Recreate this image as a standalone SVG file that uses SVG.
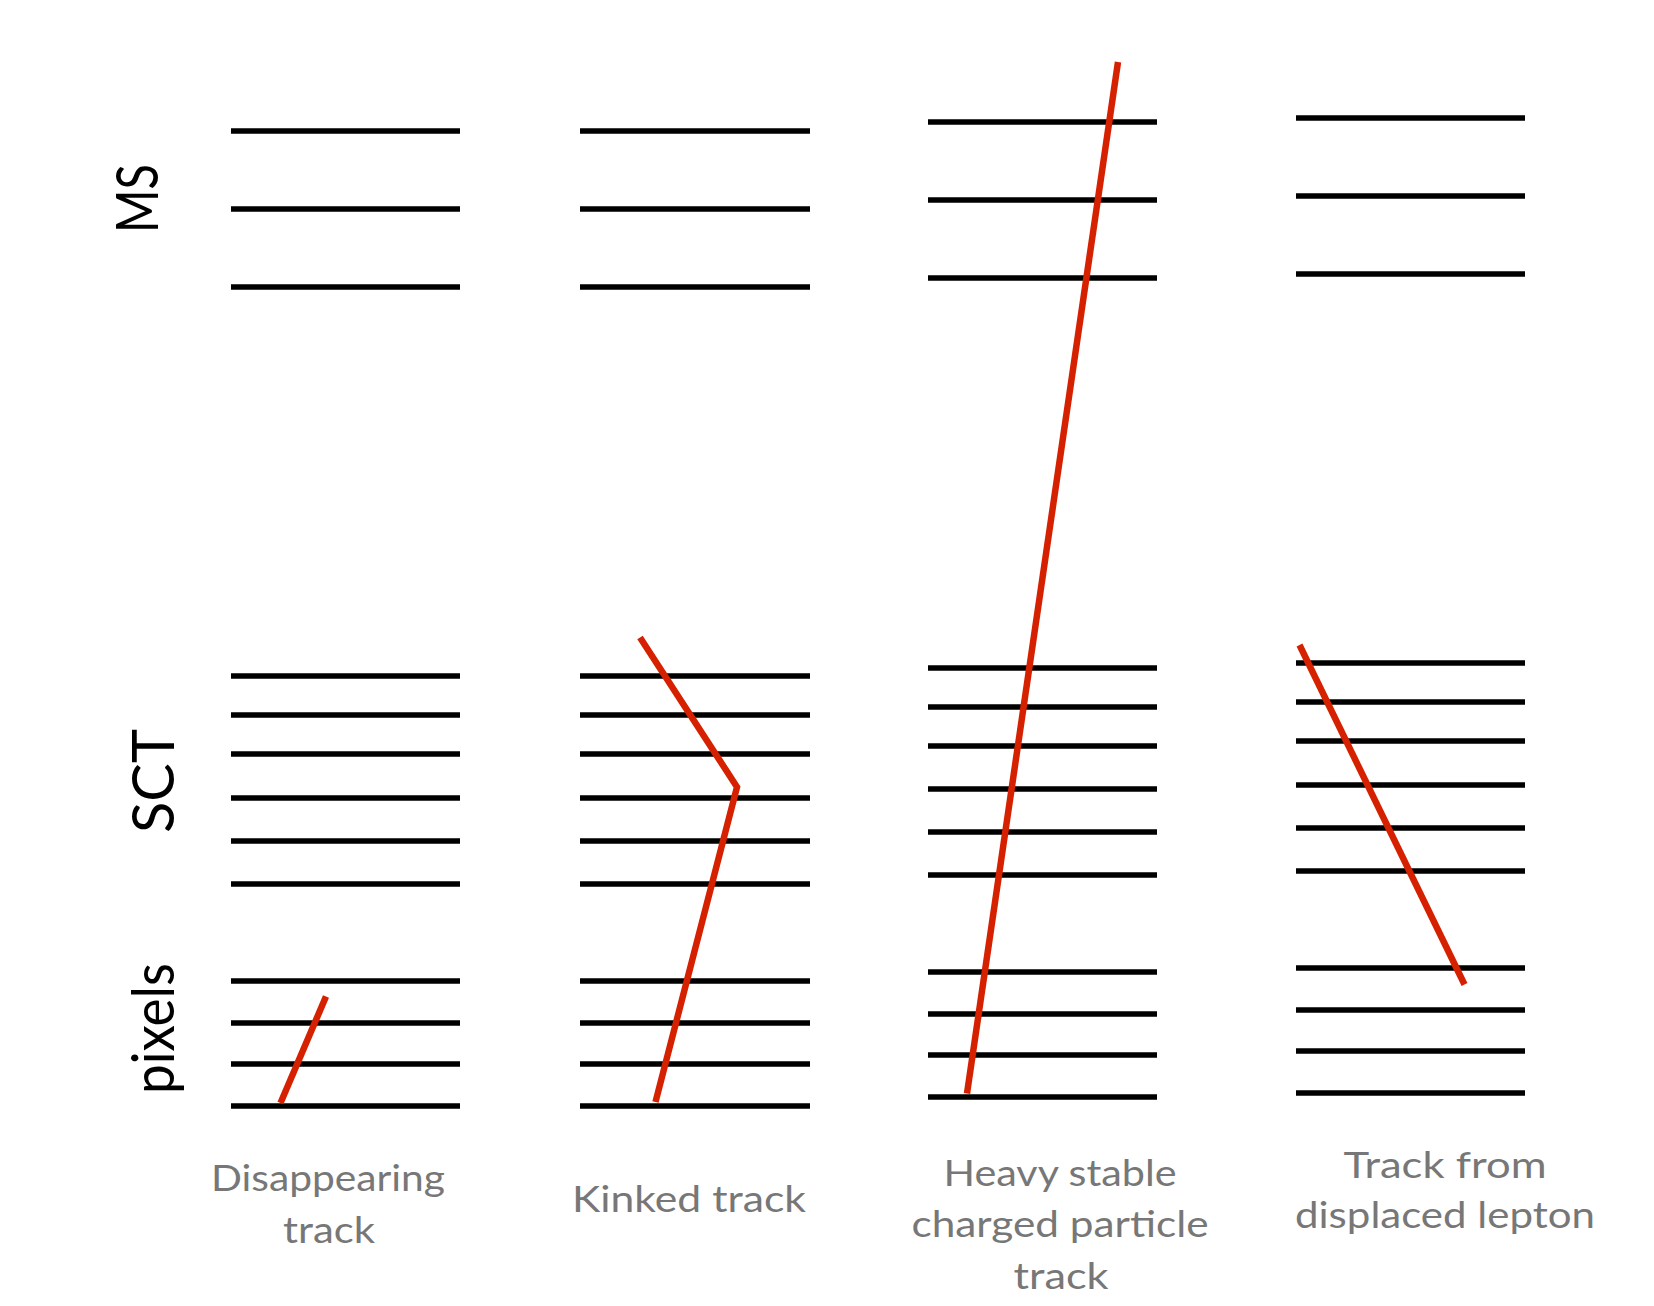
<svg xmlns="http://www.w3.org/2000/svg" width="1654" height="1306" viewBox="0 0 1654 1306">
<style>
.l{stroke:#000;stroke-width:5.6;fill:none}
.t{stroke:#D62100;stroke-width:6.5;fill:none;stroke-linecap:butt;stroke-linejoin:miter}
.ax{font-family:Lato,"Liberation Sans",sans-serif;font-size:58px;fill:#000}
.lb{font-family:Lato,"Liberation Sans",sans-serif;font-size:37px;fill:#777;text-anchor:middle}
</style>
<rect width="1654" height="1306" fill="#fff"/>
<g id="axis-labels">
<text class="ax" transform="translate(158,233) rotate(-90)" textLength="69" lengthAdjust="spacingAndGlyphs">MS</text>
<text class="ax" transform="translate(174,833) rotate(-90)" textLength="104" lengthAdjust="spacingAndGlyphs">SCT</text>
<text class="ax" transform="translate(174,1094) rotate(-90)" textLength="131" lengthAdjust="spacingAndGlyphs">pixels</text>
</g>
<g id="col-disappearing">
<path class="l" d="M231 131H460M231 209H460M231 287H460M231 676H460M231 715H460M231 754H460M231 798H460M231 841H460M231 884H460M231 981H460M231 1023H460M231 1064H460M231 1106H460"/>
<text class="lb" x="328" y="1191" textLength="234" lengthAdjust="spacingAndGlyphs">Disappearing</text>
<text class="lb" x="329" y="1243" textLength="92" lengthAdjust="spacingAndGlyphs">track</text>
</g>
<g id="col-kinked">
<path class="l" d="M580 131H810M580 209H810M580 287H810M580 676H810M580 715H810M580 754H810M580 798H810M580 841H810M580 884H810M580 981H810M580 1023H810M580 1064H810M580 1106H810"/>
<text class="lb" x="689" y="1212" textLength="234" lengthAdjust="spacingAndGlyphs">Kinked track</text>
</g>
<g id="col-heavy">
<path class="l" d="M928 122H1157M928 200H1157M928 278H1157M928 668H1157M928 707H1157M928 746H1157M928 789H1157M928 832H1157M928 875H1157M928 972H1157M928 1014H1157M928 1055H1157M928 1097H1157"/>
<text class="lb" x="1060" y="1186" textLength="233" lengthAdjust="spacingAndGlyphs">Heavy stable</text>
<text class="lb" x="1060" y="1237" textLength="297" lengthAdjust="spacingAndGlyphs">charged particle</text>
<text class="lb" x="1061" y="1289" textLength="95" lengthAdjust="spacingAndGlyphs">track</text>
</g>
<g id="col-displaced">
<path class="l" d="M1296 118H1525M1296 196H1525M1296 274H1525M1296 663H1525M1296 702H1525M1296 741H1525M1296 785H1525M1296 828H1525M1296 871H1525M1296 968H1525M1296 1010H1525M1296 1051H1525M1296 1093H1525"/>
<text class="lb" x="1445" y="1178" textLength="203" lengthAdjust="spacingAndGlyphs">Track from</text>
<text class="lb" x="1445" y="1228" textLength="300" lengthAdjust="spacingAndGlyphs">displaced lepton</text>
</g>
<g id="tracks">
<path class="t" d="M280.5 1103L326 996.5"/>
<path class="t" d="M640 637.5L737 787L655.5 1102"/>
<path class="t" d="M1118 62L967 1093.5"/>
<path class="t" d="M1299.5 645L1464.5 984.5"/>
</g>
</svg>
